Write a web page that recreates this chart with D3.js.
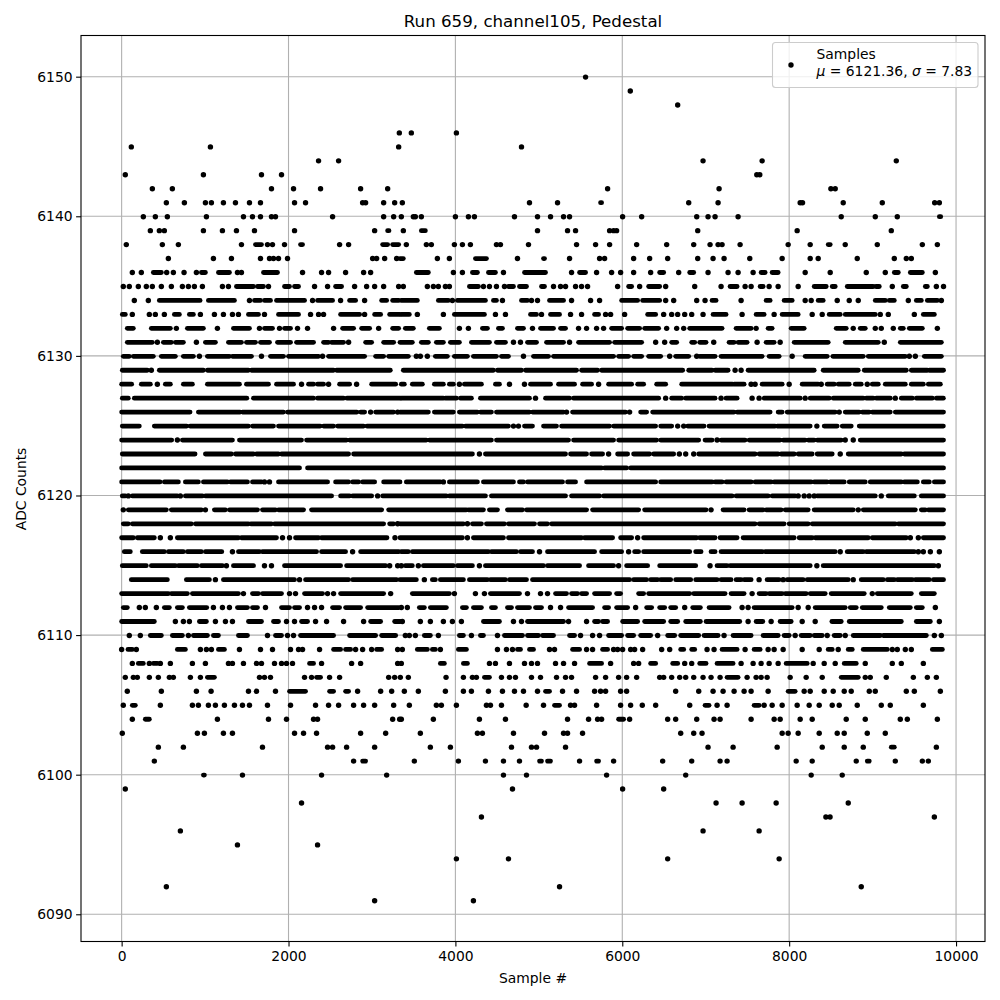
<!DOCTYPE html>
<html><head><meta charset="utf-8">
<script src="https://cdn.jsdelivr.net/npm/d3@7"></script>
<style>html,body{margin:0;padding:0;background:#fff}svg{display:block;font-family:"DejaVu Sans",sans-serif}</style>
</head><body><svg id="c" width="1000" height="1000"></svg>
<script>
// Each level lists the sample numbers read at that ADC count. A plain number is one sample;
// a [first,last] pair is a stretch of samples whose dots overlap solidly in the picture.
const s6150=[5560];
const s6149=[6096];
const s6148=[6664];
const s6146=[3328,3472,4012];
const s6145=[116,1064,3320,4792];
const s6144=[2360,2600,6968,7676,9284];
const s6143=[44,980,1676,1916,7612,7648];
const s6142=[368,608,1796,2060,2384,2864,3188,5824,7160,8500,8552];
const s6141=[536,752,1004,1076,1220,1364,1532,1664,2072,2204,2888,2924,3140,3272,3364,4888,5224,[5740,5752],6796,7148,8132,8160,8648,9116,9744,9800];
const s6140=[260,404,548,1016,1460,1568,1664,1796,1844,2528,3140,3260,3352,3496,3520,3592,4000,4156,4228,4708,4984,5140,5296,5368,6004,6232,6892,7028,7112,7388,8624,9032,9296,[9800,9816]];
const s6139=[344,452,512,980,1208,1376,1592,2072,3032,[3188,3204],3376,[3592,3640],4984,5344,5440,5848,5896,5932,6904,8096,9224];
const s6138=[56,488,680,1436,[1604,1676],1748,1808,1952,[2144,2168],2612,2720,[3128,3188],[3248,3320],3412,3652,3712,3988,4084,4180,4492,4540,4876,5452,5680,5848,6172,6532,6856,7052,7148,7196,7412,7988,8252,[8468,8492],8672,9056,9596,9776];
const s6137=[560,1100,1316,1664,1772,1820,1880,1988,3008,3056,3152,3296,[3336,3376],3784,3928,[4240,4372],4744,[5056,5068],5368,5728,5788,6136,6328,6544,6904,7088,7220,7528,7916,8252,8348,8816,9260,9404,9464];
const s6136=[128,236,[380,476],540,620,748,896,[956,1004],[1160,1292],1388,1436,[1700,1868],2168,2396,2480,2684,2900,2984,[3532,3676],3976,4084,[4204,4264],[4396,4480],4576,[4828,5080],5392,[5488,5560],5692,5872,5980,6136,6340,[6448,6496],6676,[6808,6856],7028,7268,7388,7568,[7664,7712],[7796,7868],8192,8492,8924,9152,[9260,9308],[9452,9596],9752];
const s6135=[20,92,200,296,368,476,596,728,800,872,968,1208,1280,[1376,1580],[1628,1700],1760,[1952,2012],[2072,2120],2312,2468,[2564,2636],2792,2936,3032,3140,3320,3376,3664,3736,3796,3880,3928,[4168,4276],4336,4408,4492,4588,[4636,4696],[4768,4852],[5032,5068],5176,5260,5320,5440,5512,5584,5944,[6076,6112],6208,[6316,6448],6520,6868,7184,[7292,7376],7472,7544,[7652,7688],7760,7868,8108,[8300,8444],[8516,8552],[8696,9008],[9040,9080],9236,[9368,9404],[9632,9656],9764,9850];
const s6134=[152,320,[452,940],[1040,1352],1532,[1592,1664],[1712,1784],[1856,2192],2288,[2348,2528],2624,[2732,2804],2912,[3116,3176],[3248,3320],[3352,3544],[3796,3916],3964,[4024,4360],[4456,4492],4564,[4792,4864],4912,4984,[5128,5296],5392,5620,5728,[5992,6184],[6244,6448],6520,6616,6892,6992,[7076,7124],7424,[7724,7772],[7940,8036],8192,8264,[8348,8408],8576,8720,8828,[9032,9152],[9200,9260],9428,[9524,9584],[9656,9776],9824];
const s6133=[[8,44],128,332,404,512,[632,692],[812,860],944,1112,1220,1328,1400,[1520,1640],1712,[1880,2120],2264,2360,2420,[2624,2852],2912,[3032,3104],[3212,3332],[3352,3448],3544,3856,[3988,4348],4480,4600,[4900,4972],5032,[5140,5248],5380,5512,[5668,5716],5800,5860,6028,[6304,6400],6496,6592,6664,6748,6832,6968,[7088,7244],7436,[7604,7700],7820,[7916,8108],8276,8396,[8480,8612],[8672,9032],9092,9188,9500,[9608,9740]];
const s6132=[[68,140],[356,584],656,[788,980],1148,[1340,1532],1652,[1712,1808],1892,[1952,2024],2108,2228,2540,[2648,2780],[2876,2972],3080,[3248,3320],[3400,3496],[3688,3808],4048,4156,[4324,4384],[4516,4564],[4744,4816],4924,[5020,5176],[5260,5320],5476,5572,5692,5776,[5872,5992],[6064,6208],[6268,6436],6532,6652,6736,[6808,7196],[7364,7544],7604,[7748,7796],[8024,8180],[8564,8684],8768,[8852,8912],9032,9104,9248,[9332,9368],[9440,9596],9776];
const s6131=[[68,368],428,[500,596],[644,740],896,[1004,1124],[1280,1436],[1496,1604],[1664,1772],[1868,2024],[2096,2300],[2420,2480],[2516,2660],2720,[2924,2996],[3140,3260],[3336,3484],[3592,3676],[3772,3856],[3940,4048],[4192,4408],[4492,4600],4696,4780,[4864,4972],[5092,5296],5368,[5476,5848],[5908,6232],6400,6508,[6592,6652],[6832,6868],[6928,7004],7096,[7280,7340],[7388,7496],7616,[7724,7820],7892,[8060,8468],[8672,9068],9140,[9332,9824]];
const s6130=[[20,92],[140,380],[476,644],[740,860],932,[1028,1292],[1328,1556],1676,[1784,1940],[2000,2360],2408,[2480,2912],[3044,3140],[3200,3436],3532,3580,3664,[3760,3904],[3988,4144],[4216,4492],[4552,4636],4816,[4936,5116],[5176,5896],[5956,6076],[6136,6232],[6316,6460],6568,[6640,6796],6892,[6928,7112],[7184,7676],[7760,7880],8036,[8192,8456],[8524,8888],[8948,9392],9440,9512,[9620,9824]];
const s6129=[[8,308],356,[452,980],[1028,1520],[1556,2540],[2576,3220],[3376,4456],[4504,4792],[4840,5452],[5512,5704],[5752,6724],[6796,7076],[7112,7268],7352,7424,[7508,8300],[8408,8828],[8900,9404],[9464,9656],[9680,9850]];
const s6128=[[0,120],[236,344],428,[524,584],[740,848],[1028,1412],[1496,1760],[1856,2060],2156,[2240,2300],[2348,2420],2480,[2612,2732],2816,[2996,3284],[3352,3388],[3484,3604],[3748,3856],[3928,3976],4048,[4108,4312],[4480,4528],4648,4828,[4900,5140],[5236,5428],[5524,5632],5716,[5836,6112],[6184,6256],[6412,6520],[6712,7320],[7340,7460],7544,7592,[7676,7916],8000,[8156,8348],8384,[8456,8540],[8588,8720],[8792,8864],8936,[8996,9068],[9152,9392],[9464,9608],[9668,9812]];
const s6127=[[8,80],[152,1500],[1580,2300],[2348,2660],[2700,3340],[3352,3856],[3880,4012],[4060,4192],[4300,4888],4960,[5080,5368],[5416,6436],6520,[6592,6712],[6760,7112],7184,[7244,7376],7556,7640,[7700,8132],8192,[8252,8480],[8528,8888],[8924,9008],[9044,9212],9272,[9344,9476],[9524,9716],[9764,9848]];
const s6126=[[0,820],[920,1420],[1448,1940],[1988,2820],[2864,2912],2984,[3044,3260],3308,[3336,3676],[3748,3976],[4048,4264],[4300,4432],[4492,4888],[4924,5296],5332,[5404,6040],6088,[6220,6292],[6364,7340],[7376,7772],[7868,7916],[7976,8552],8600,[8672,8840],[8876,8960],[8996,9212],[9272,9850]];
const s6125=[[8,212],[392,780],[820,1520],[1568,1820],[1880,2380],[2420,2540],[2588,2900],[2940,4084],[4120,4636],4696,4756,[4828,4924],[5056,5212],[5272,5848],[5896,6400],[6460,6592],6664,6736,[6784,6980],[7040,7832],[7856,8252],8332,[8420,8576],[8636,8744],[8840,9848]];
const s6124=[[0,600],668,[728,1328],[1412,2156],[2216,2696],[2732,3652],[3688,4432],[4492,5356],[5416,5896],[5956,6412],[6460,6916],[6992,7076],7136,[7184,7472],[7520,7892],[7928,8192],[8228,8300],[8336,8624],8672,8768,[8852,9850]];
const s6123=[[8,880],[1004,1316],[1364,1580],[1616,1880],[1916,2720],[2780,4204],4288,[4360,5320],[5380,5572],[5632,5764],5836,[5944,6064],[6136,6328],[6376,6616],6684,6760,6856,[6916,7592],[7640,7868],[7904,8060],[8108,8276],[8336,8516],8612,[8708,9344],[9380,9850]];
const s6122=[[0,2132],[2228,5752],[5788,6052],[6100,9850]];
const s6121=[[0,460],[512,680],[764,920],[980,1268],[1304,1508],[1568,1676],1712,1772,[1880,2468],[2564,2720],[2768,2840],[2888,3032],[3140,3336],[3412,3820],3856,[3928,4264],[4336,4696],[4768,4816],[4864,5284],[5344,5440],[5572,6400],[6460,7076],[7112,7196],[7244,7544],[7592,7784],[7820,8264],[8300,8456],[8492,8660],[8720,8912],[8972,9344],[9380,9536],[9608,9680],[9740,9850]];
const s6120=[[8,44],80,[128,668],704,[764,968],[1004,2516],[2624,2732],[2768,2996],3068,[3128,3892],[3928,4360],[4432,5320],[5392,5728],[5776,7316],[7364,7748],[7796,8072],8108,8180,8240,8300,[8336,9032],9104,[9188,9500],[9584,9850]];
const s6119=[20,[80,536],[596,956],1004,[1112,1244],[1292,1628],[1688,1844],[1880,2180],[2276,3116],[3200,4132],[4156,4336],[4408,4504],[4624,4804],[4852,5572],[5644,6196],[6268,7004],7064,[7208,7460],[7520,7688],[7724,7904],[7952,8228],[8300,8768],8828,[8888,9512],[9584,9632],[9668,9850]];
const s6118=[[20,80],[128,836],[884,1520],[1548,1796],[1832,3140],[3212,3260],3308,[3336,4096],4144,[4204,4312],[4372,4588],[4636,4948],[5008,5104],[5152,7592],[7640,7940],[8000,8228],[8276,9272],[9308,9850]];
const s6117=[[0,140],[188,392],464,584,[668,1400],[1436,1856],1928,2012,[2084,2360],[2396,3180],3276,[3336,4084],4144,[4216,4576],[4636,5512],[5548,5884],[5980,6112],6184,[6256,6892],[6928,7112],[7172,7376],[7448,8060],[8120,8276],[8312,8948],[8996,9404],9452,9548,[9608,9850]];
const s6116=[[32,104],[248,512],[560,740],[788,956],[1004,1200],1328,[1400,1652],[1688,2336],[2396,2684],2768,[2864,3320],[3352,3436],[3484,4396],[4432,4732],[4780,4924],5008,[5104,5668],[5752,5992],6076,[6148,6196],[6256,6808],[6880,6944],[7064,7112],[7184,7676],[7712,8552],8612,[8696,8888],[8924,9500],9548,9608,9692,9800];
const s6115=[[8,296],[356,644],[680,908],[956,1208],1256,[1340,1580],1712,1796,[1952,2624],[2696,3164],3212,3308,3352,[3400,3484],3556,[3616,3976],[4024,4204],4288,[4360,5056],[5104,5488],[5596,5896],5956,[6052,6304],[6448,6880],7052,[7136,7256],[7292,8252],8332,[8408,9740],9788];
const s6114=[[116,548],[776,1052],1124,[1220,2072],2132,[2204,2720],[2768,3296],[3336,3532],3628,[3724,3760],[3820,4096],[4168,4384],[4420,4600],[4648,4852],[4924,6088],[6136,6292],[6340,6424],[6460,6580],[6640,6820],[6880,7136],[7184,7304],[7364,7424],[7460,7544],7640,[7736,7880],7928,[7976,8168],[8216,8708],8768,[8864,9128],[9176,9260],[9296,9476],[9512,9680],[9728,9850]];
const s6113=[[0,560],[596,788],[848,1400],1460,[1568,1640],[1688,1916],2012,2084,[2192,2408],2468,2540,[2624,3140],3224,[3484,3928],3988,4240,4348,[4420,4768],4864,5020,5104,[5200,5332],[5392,5464],[5512,5572],[5668,5848],[5932,5980],[6196,6256],[6316,6808],[6856,7232],[7304,7460],7556,[7640,7724],[7760,7916],[7952,8204],[8252,8432],[8504,8900],8996,[9056,9464],[9584,9740]];
const s6112=[[20,68],212,284,416,[512,572],[668,728],[812,1020],1100,1208,1292,[1388,1508],[1568,1628],1724,[1916,2012],[2072,2132],2228,2312,2396,[2528,2612],[2684,2864],[2948,3320],3352,3424,[3568,3628],[3700,3892],[4084,4132],[4216,4312],[4432,4480],[4624,4672],[4744,4888],[4960,5032],5140,5260,[5356,5644],[5788,5836],[5932,6064],6160,[6292,6352],[6448,6508],[6580,6640],6748,[6844,6936],[7040,7280],7436,7508,[7580,8036],8108,8228,[8312,8672],[8732,8804],[8876,9104],[9200,9452],[9524,9596],9752];
const s6111=[[0,392],644,740,812,[932,1016],1124,1244,1328,[1520,1676],[1820,1880],1976,2072,[2156,2228],2324,2456,2660,2900,[2984,3104],[3272,3340],3364,3580,3700,3856,3964,4072,[4336,4528],4696,4792,[4864,5296],5356,5572,[5668,5716],[5764,5824],[6004,6184],[6268,6496],[6580,6664],[6760,6936],[7004,7408],7508,[7604,7684],7784,[7892,8024],8156,8312,[8512,8624],[8720,9344],[9524,9692],9800];
const s6110=[92,224,[344,476],[608,728],800,[860,1028],[1100,1160],[1400,1508],1748,[1844,1916],1988,2060,[2144,2540],[2732,3044],[3116,3284],3400,3448,3520,[3628,3700],3796,[4048,4096],4192,[4300,4336],4504,[4588,4804],[4864,4996],[5044,5176],[5368,5428],5500,5644,5728,[5836,5992],[6064,6136],[6220,6340],6424,[6544,6628],[6700,6916],[6980,7148],7220,[7328,7544],[7688,7868],[7940,8000],8072,[8144,8252],[8300,8396],8456,[8540,8612],8672,[8768,9092],[9128,9644],9740,9824];
const s6109=[0,[76,128],176,[668,764],944,1016,1076,[1160,1232],1412,1664,1808,2024,2120,2168,2372,[2540,2624],[2684,2744],2804,2888,2996,[3056,3116],3308,3364,[3544,3664],[3724,3760],3820,[4036,4132],4504,4612,4684,[4744,4780],[4888,4936],5128,5188,[5404,5488],5572,5644,[5764,5824],5896,5944,6004,6100,6148,6244,6472,6568,[6700,6736],[6832,6868],7016,7100,[7196,7376],7472,[7580,7652],7748,7820,7928,8156,8360,[8468,8516],8588,[8708,8756],[8888,9176],9236,9296,9392,9464,[9716,9836]];
const s6108=[128,[200,260],332,[380,428],464,584,848,1004,1280,1328,1460,1616,1676,1832,1916,1976,2048,[2252,2300],2396,2756,2864,3308,3352,[3820,3868],[4096,4144],4408,4480,4648,4828,4912,4984,5200,5296,5428,[5608,5752],5860,6136,6196,[6340,6400],[6604,6664],6748,6832,[6928,7004],[7136,7328],7424,7568,7664,7760,7868,[7964,8216],8288,8420,8552,[8660,8804],8912,9236,9344,9608];
const s6107=[44,140,188,332,440,572,620,824,944,[1028,1112],1652,1712,1784,2192,2276,[2336,2384],2492,2612,3200,3272,3340,3436,3888,4096,4204,4252,[4348,4408],4552,4648,4720,4912,5020,5212,5320,5392,5680,5800,5956,6052,6172,6448,6496,6592,6688,6760,6856,6968,7064,7172,[7256,7388],7496,7604,7664,7736,8012,8204,8396,[8624,8828],8912,8972,9164,9488,9656,9764];
const s6106=[68,476,896,1072,1520,1616,1844,[2012,2204],[2492,2540],[2684,2720],2828,3104,3236,3388,3556,3880,4096,4192,4396,4564,4708,4816,4984,[5080,5128],5284,5452,5668,5740,5800,5980,6052,6640,6916,7088,7208,7340,7460,7544,7748,[7988,8072],8180,8252,8420,8528,8660,8744,8960,9032,9404,9500,9812];
const s6105=[20,[128,164],464,848,920,1040,1124,1232,1352,1448,1532,1748,2024,2324,2480,2600,2780,2900,3032,3260,3448,3772,3832,4012,4372,4420,4552,4848,5056,[5188,5248],5380,5428,5692,5980,6100,6240,6400,6808,[6992,7040],7136,7256,[7580,7640],7700,7796,7916,8096,8240,8360,8516,8600,8816,9104,9212,9608];
const s6104=[128,[284,332],1148,1760,1976,2300,2348,3248,3332,3352,3736,4288,4600,5344,5596,5704,5752,[5956,6016],6088,6544,6640,6892,7100,7172,7544,7820,7892,8132,8276,8684,8912,9332,9416,9776];
const s6103=[8,908,992,1220,1328,2072,2180,2336,2864,3164,3580,4264,4324,4696,5068,5296,5344,5524,6700,6856,6956,7916,7988,8108,8360,8576,8660,8936,9152];
const s6102=[440,740,1688,2468,2528,2696,3032,3700,3940,4672,4912,4972,5320,7028,7328,7856,8396,8660,8888,[9224,9260],9764];
const s6101=[392,2780,[2888,2924],3508,4036,4360,4576,4768,[5008,5032],[5104,5140],5488,[5692,5716],5896,6484,6832,7172,7256,8084,8276,8804,[8936,8960],9272,9596,9668];
const s6100=[[980,992],1448,2396,3176,4576,4852,5812,6760,8264,8636];
const s6099=[44,4684,6004,6496];
const s6098=[2156,7124,7436,7844,8708];
const s6097=[4312,8440,8490,9740];
const s6096=[704,6968,7640];
const s6095=[1388,2348];
const s6094=[4012,4636,6544,7880];
const s6092=[536,5248,8864];
const s6091=[3032,4216];

const levels=[[6150,s6150],[6149,s6149],[6148,s6148],[6146,s6146],[6145,s6145],[6144,s6144],[6143,s6143],[6142,s6142],[6141,s6141],[6140,s6140],[6139,s6139],[6138,s6138],[6137,s6137],[6136,s6136],[6135,s6135],[6134,s6134],[6133,s6133],[6132,s6132],[6131,s6131],[6130,s6130],[6129,s6129],[6128,s6128],[6127,s6127],[6126,s6126],[6125,s6125],[6124,s6124],[6123,s6123],[6122,s6122],[6121,s6121],[6120,s6120],[6119,s6119],[6118,s6118],[6117,s6117],[6116,s6116],[6115,s6115],[6114,s6114],[6113,s6113],[6112,s6112],[6111,s6111],[6110,s6110],[6109,s6109],[6108,s6108],[6107,s6107],[6106,s6106],[6105,s6105],[6104,s6104],[6103,s6103],[6102,s6102],[6101,s6101],[6100,s6100],[6099,s6099],[6098,s6098],[6097,s6097],[6096,s6096],[6095,s6095],[6094,s6094],[6092,s6092],[6091,s6091]];
const xTicks=[0,2000,4000,6000,8000,10000];
const yTicks=[6090,6100,6110,6120,6130,6140,6150];
const titleText="Run 659, channel105, Pedestal";
const xLabel="Sample #";
const yLabel="ADC Counts";

const L=81,R=985,T=35.5,B=941.5;
const x=d3.scaleLinear().domain([-487,10347]).range([L,R]);
const y=d3.scaleLinear().domain([6088.05,6152.95]).range([B,T]);
const svg=d3.select("#c");
const fs=13.89;

// grid
svg.append("g").selectAll("line").data(xTicks).join("line")
 .attr("x1",d=>x(d)).attr("x2",d=>x(d)).attr("y1",T).attr("y2",B)
 .attr("stroke","#b0b0b0").attr("stroke-width",1.1);
svg.append("g").selectAll("line").data(yTicks).join("line")
 .attr("y1",d=>y(d)).attr("y2",d=>y(d)).attr("x1",L).attr("x2",R)
 .attr("stroke","#b0b0b0").attr("stroke-width",1.1);

// marks
const singles=[],runs=[];
levels.forEach(([v,list])=>list.forEach(e=>{
  if(Array.isArray(e)) runs.push({v,a:e[0],b:e[1]}); else singles.push({v,s:e});
}));
svg.append("g").selectAll("line").data(runs).join("line")
 .attr("x1",d=>x(d.a)).attr("x2",d=>x(d.b)).attr("y1",d=>y(d.v)+0.4).attr("y2",d=>y(d.v)+0.4)
 .attr("stroke","#000").attr("stroke-width",4.8).attr("stroke-linecap","round");
svg.append("g").selectAll("circle").data(singles).join("circle")
 .attr("cx",d=>x(d.s)).attr("cy",d=>y(d.v)+0.4).attr("r",2.7).attr("fill","#000");

// axes
const ax=svg.append("g").attr("transform",`translate(0,${B})`)
 .call(d3.axisBottom(x).tickValues(xTicks).tickFormat(d3.format("d")).tickSize(4.9).tickPadding(4.5));
const ay=svg.append("g").attr("transform",`translate(${L},0)`)
 .call(d3.axisLeft(y).tickValues(yTicks).tickFormat(d3.format("d")).tickSize(4.9).tickPadding(3.5));
[ax,ay].forEach(g=>{
  g.select(".domain").remove();
  g.selectAll("line").attr("stroke","#000").attr("stroke-width",1.1);
  g.selectAll("text").attr("fill","#000").style("font-size",fs+"px").style("font-family",'"DejaVu Sans"');
});
svg.append("rect").attr("x",L).attr("y",T).attr("width",R-L).attr("height",B-T)
 .attr("fill","none").attr("stroke","#000").attr("stroke-width",1.1);

// labels
svg.append("text").attr("x",(L+R)/2).attr("y",27).attr("text-anchor","middle").style("font-size","16.67px").text(titleText);
svg.append("text").attr("x",(L+R)/2).attr("y",983).attr("text-anchor","middle").style("font-size",fs+"px").text(xLabel);
svg.append("text").attr("transform","translate(26,489) rotate(-90)").attr("text-anchor","middle").style("font-size",fs+"px").text(yLabel);

// legend
const lg=svg.append("g");
lg.append("rect").attr("x",772.5).attr("y",42.5).attr("width",205.5).attr("height",45).attr("rx",3)
 .attr("fill","#fff").attr("fill-opacity",0.8).attr("stroke","#ccc").attr("stroke-width",1.1);
lg.append("circle").attr("cx",791).attr("cy",65).attr("r",2.7).attr("fill","#000");
lg.append("text").attr("x",816.5).attr("y",59).style("font-size",fs+"px").text("Samples");
const t2=lg.append("text").attr("x",816.5).attr("y",76).style("font-size",fs+"px");
t2.append("tspan").attr("font-style","italic").text("\u03bc");
t2.append("tspan").text(" = 6121.36, ");
t2.append("tspan").attr("font-style","italic").text("\u03c3");
t2.append("tspan").text(" = 7.83");
</script></body></html>
